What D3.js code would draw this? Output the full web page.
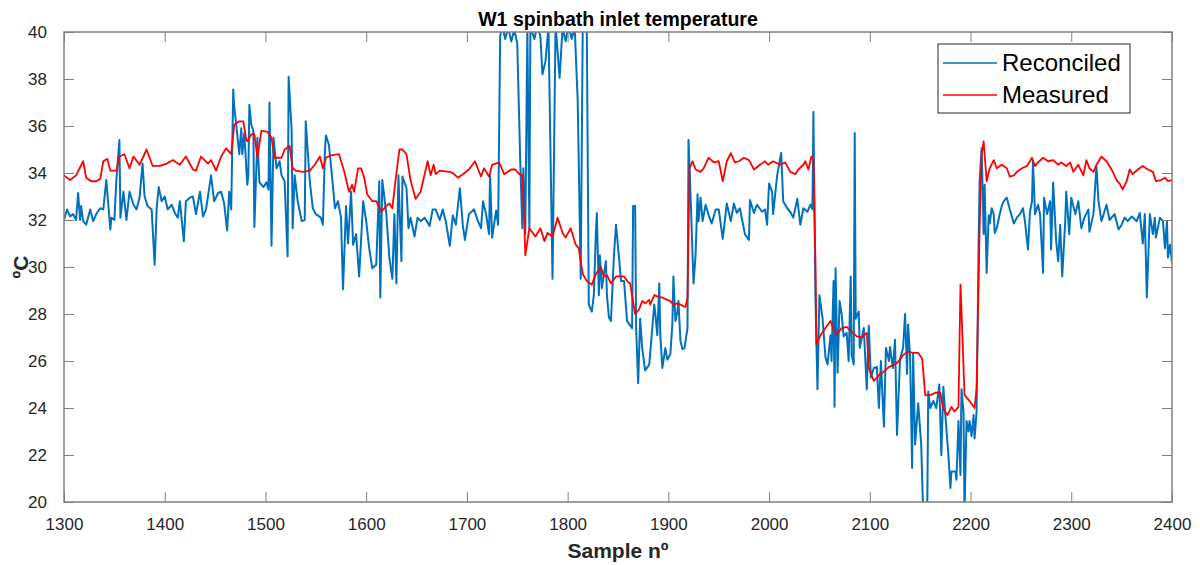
<!DOCTYPE html>
<html>
<head>
<meta charset="utf-8">
<script src="https://cdn.jsdelivr.net/npm/d3@7"></script>
<style>
  body { margin: 0; background: #fff; }
  svg { display: block; font-family: 'Liberation Sans', Arial, Helvetica, sans-serif; }
</style>
</head>
<body>
<div class="graph"></div>
<script>
(() => {
// values
var measuredSample = [1300,1306,1312,1319,1322,1327,1332,1336,1339,1343,1346,1352,1355,1360,1365,1369,1375,1382,1388,1395,
  1402,1408,1415,1421,1428,1431,1436,1443,1446,1451,1456,1461,1466,1469,1474,1478,1481,1482,1486,1489,
  1492,1496,1502,1506,1509,1516,1519,1524,1527,1530,1537,1544,1549,1554,1557,1560,1565,1573,1578,1583,
  1586,1588,1592,1595,1598,1601,1606,1610,1615,1620,1623,1626,1629,1633,1636,1640,1644,1649,1654,1661,
  1664,1667,1669,1673,1683,1686,1691,1696,1702,1708,1714,1717,1722,1725,1732,1737,1744,1748,1752,1755,
  1757,1758,1762,1768,1773,1777,1780,1785,1790,1795,1798,1803,1808,1811,1815,1819,1824,1828,1833,1836,
  1839,1843,1848,1851,1856,1859,1862,1867,1871,1874,1877,1881,1882,1886,1889,1894,1899,1902,1905,1909,
  1912,1917,1919,1921,1924,1927,1932,1935,1940,1945,1950,1954,1958,1962,1966,1970,1975,1980,1985,1991,
  1996,1999,2004,2011,2016,2021,2026,2029,2034,2036,2039,2042,2044,2046,2047,2051,2056,2061,2064,2067,
  2072,2077,2082,2087,2092,2097,2099,2104,2109,2114,2119,2125,2130,2133,2138,2143,2148,2152,2155,2160,
  2165,2170,2173,2177,2181,2184,2188,2190,2192,2194,2199,2204,2206,2209,2211,2213,2216,2219,2223,2226,
  2231,2236,2239,2243,2246,2251,2256,2261,2264,2267,2272,2277,2282,2287,2290,2295,2299,2302,2307,2312,
  2315,2318,2322,2325,2330,2335,2340,2345,2348,2351,2355,2358,2361,2366,2371,2376,2381,2384,2389,2393,
  2396,2400];
var measuredValue = [33.9,33.7,33.9,34.5,33.8,33.65,33.65,33.75,34.5,34.6,34.1,34.1,34.7,34.8,34.2,34.7,34.35,35.0,34.3,34.3,
  34.4,34.55,34.35,34.7,34.15,34.1,34.7,34.4,34.55,34.1,34.7,35.05,34.8,36.05,36.2,36.2,35.4,35.35,35.65,35.65,
  34.65,35.8,35.75,35.5,34.65,34.65,35.0,35.15,34.2,34.1,34.05,34.1,34.35,34.7,34.2,34.65,34.75,34.8,34.1,33.2,
  33.5,33.2,34.2,34.2,33.8,33.1,32.8,32.8,32.35,32.6,32.7,32.5,33.65,35.0,35.0,34.8,33.7,32.9,33.2,34.5,
  33.9,34.35,33.95,34.1,34.05,34.0,33.8,33.95,34.15,34.5,33.85,34.2,33.85,34.35,34.45,33.95,34.15,34.15,33.95,33.9,
  31.8,30.5,31.65,31.3,31.65,31.1,31.45,31.3,32.1,31.45,31.25,31.65,30.95,30.8,29.7,29.4,29.25,29.7,30.0,29.6,
  29.65,29.3,29.6,29.6,29.6,29.4,29.3,28.0,28.2,28.55,28.45,28.6,28.4,28.8,28.75,28.7,28.6,28.55,28.4,28.45,
  28.4,28.3,28.7,34.2,34.5,34.15,34.05,34.2,34.65,34.45,34.5,33.65,34.5,34.85,34.45,34.5,34.65,34.55,34.15,34.35,
  34.5,34.35,34.5,34.35,34.45,34.05,33.95,34.15,34.35,34.5,34.15,34.7,34.6,30.25,26.7,27.1,27.4,27.7,27.35,27.1,
  27.4,27.45,27.25,27.05,27.0,27.2,25.7,25.15,25.4,25.55,25.75,25.85,26.05,26.25,26.4,26.35,26.35,26.1,24.55,24.55,
  24.65,24.65,23.95,23.7,24.05,23.85,24.05,29.25,27.0,24.55,24.3,24.0,24.85,31.65,34.8,35.35,33.65,34.2,34.55,34.2,
  34.35,34.2,33.85,33.9,34.05,34.2,34.3,34.65,34.3,34.45,34.65,34.5,34.55,34.35,34.45,34.3,34.45,34.05,34.35,33.9,
  34.55,34.2,34.05,34.35,34.7,34.5,34.15,33.7,33.55,33.3,33.65,34.15,33.95,34.15,34.3,34.15,34.05,33.65,33.7,33.8,
  33.65,33.7];

var reconciledSample = [1300,1303,1306,1309,1312,1314,1316,1317,1319,1322,1326,1329,1332,1336,1339,1342,1346,1347,1350,1352,
  1355,1356,1359,1362,1365,1369,1372,1375,1378,1380,1383,1387,1390,1392,1394,1397,1400,1403,1407,1410,
  1413,1415,1419,1421,1425,1428,1431,1435,1438,1441,1446,1449,1453,1456,1459,1462,1464,1466,1468,1469,
  1471,1474,1476,1477,1479,1481,1482,1483,1484,1486,1488,1489,1492,1494,1498,1501,1503,1504,1506,1508,
  1511,1514,1516,1519,1522,1523,1526,1527,1529,1532,1536,1539,1540,1544,1547,1550,1555,1557,1559,1560,
  1563,1566,1569,1572,1575,1577,1580,1582,1585,1587,1590,1593,1597,1600,1603,1606,1610,1613,1614,1616,
  1620,1623,1626,1628,1630,1632,1635,1636,1640,1642,1644,1648,1651,1654,1658,1663,1666,1669,1673,1676,
  1679,1683,1686,1689,1693,1696,1698,1702,1707,1711,1714,1716,1719,1722,1723,1725,1729,1731,1733,1735,
  1738,1741,1744,1747,1750,1753,1755,1756,1758,1760,1762,1763,1767,1770,1773,1775,1778,1781,1785,1788,
  1792,1795,1798,1801,1804,1807,1810,1813,1815,1819,1821,1824,1826,1828,1829,1831,1832,1834,1838,1839,
  1841,1843,1846,1848,1851,1853,1856,1859,1864,1865,1867,1868,1870,1872,1874,1877,1881,1884,1886,1887,
  1889,1891,1892,1894,1897,1899,1902,1904,1905,1907,1909,1910,1912,1914,1916,1919,1920,1922,1925,1927,
  1929,1930,1932,1934,1937,1940,1943,1947,1950,1954,1958,1962,1965,1968,1971,1976,1980,1981,1985,1988,
  1993,1996,1998,2000,2003,2004,2008,2012,2014,2018,2021,2024,2028,2031,2034,2038,2041,2043,2044,2046,
  2048,2050,2053,2056,2058,2061,2062,2064,2065,2066,2068,2070,2072,2074,2077,2079,2081,2082,2084,2085,
  2086,2089,2090,2094,2097,2099,2101,2104,2107,2109,2111,2114,2116,2119,2120,2123,2125,2127,2130,2133,
  2135,2137,2138,2140,2142,2143,2145,2148,2151,2153,2157,2158,2160,2163,2166,2169,2171,2173,2175,2178,
  2180,2181,2185,2186,2188,2190,2191,2193,2194,2196,2198,2199,2201,2203,2204,2206,2208,2209,2211,2213,
  2214,2216,2218,2219,2221,2223,2224,2226,2229,2231,2233,2236,2239,2243,2246,2249,2252,2254,2257,2259,
  2261,2262,2264,2267,2269,2272,2273,2276,2279,2280,2282,2285,2287,2289,2291,2294,2295,2298,2300,2304,
  2307,2310,2313,2317,2318,2322,2325,2327,2330,2335,2338,2343,2347,2350,2353,2356,2360,2365,2368,2371,
  2373,2375,2378,2381,2383,2384,2388,2391,2393,2395,2396,2398,2400];
var reconciledValue = [32.0,32.45,32.15,32.25,32.0,33.15,32.0,32.6,31.95,31.8,32.45,31.95,32.25,32.5,32.45,33.7,31.6,32.1,32.0,33.7,
  35.4,32.1,33.2,32.0,33.2,32.65,32.45,32.95,34.4,33.0,32.6,32.45,30.1,32.5,33.4,32.8,33.0,32.45,32.65,32.3,
  32.1,32.8,31.1,32.8,32.95,33.0,32.25,33.2,32.15,32.45,33.9,32.8,33.15,33.2,32.7,31.55,33.2,32.45,37.55,36.8,
  36.05,34.8,35.9,34.8,35.7,34.2,33.5,33.9,36.9,36.05,35.8,31.7,35.5,33.6,33.4,33.6,33.3,37.0,30.9,35.5,
  34.2,34.5,33.9,33.65,30.45,38.1,35.8,31.65,33.9,32.8,31.95,32.0,36.2,33.65,32.5,32.25,32.1,31.8,34.9,35.6,
  35.2,33.9,32.5,32.8,32.1,29.05,32.6,31.0,33.2,30.95,31.4,29.6,32.8,31.95,30.8,29.95,30.1,33.65,28.7,33.7,
  32.25,30.4,29.5,32.25,29.3,33.9,30.25,33.85,33.35,31.65,32.1,31.3,32.1,31.95,32.1,31.75,32.45,32.45,32.0,32.45,
  31.95,30.9,32.2,31.8,33.35,31.75,31.15,32.25,32.45,31.95,31.65,32.8,32.25,31.4,33.9,31.25,32.4,31.8,39.8,40.3,
  39.7,40.2,39.6,40.1,39.5,34.4,31.65,34.2,31.4,40.2,31.65,40.2,39.7,40.3,39.8,38.2,38.75,40.2,29.5,40.3,
  38.05,40.2,39.6,40.3,39.7,40.2,37.05,29.5,40.3,40.3,28.4,28.1,28.8,31.4,32.3,28.8,30.5,29.1,30.25,28.8,
  27.85,27.7,30.5,31.8,30.4,29.4,29.4,27.7,27.4,32.6,32.6,27.4,25.05,27.8,26.55,25.6,25.85,27.4,28.4,28.05,
  27.1,29.3,27.1,25.7,26.55,26.05,26.3,27.6,29.6,27.7,28.1,28.55,26.85,26.5,26.55,27.4,35.4,33.1,29.3,30.5,
  33.1,31.95,32.95,31.95,32.65,32.2,31.85,32.45,32.45,31.2,32.7,31.95,32.7,32.3,32.5,31.4,31.15,32.85,32.3,32.65,
  32.35,32.45,31.8,33.55,33.2,32.25,33.9,34.85,32.8,32.5,32.35,32.1,32.9,31.8,32.5,32.35,32.65,32.45,36.6,28.8,
  24.8,28.8,27.85,26.15,25.85,27.1,26.0,29.4,24.05,29.95,25.5,28.55,28.0,27.05,27.2,26.0,29.6,26.25,25.85,35.7,
  27.8,28.1,26.55,27.4,24.8,27.5,25.3,25.7,25.75,24.0,26.0,23.2,26.55,26.0,26.6,25.7,26.9,22.85,26.1,26.55,
  28.0,25.45,27.55,26.15,21.45,26.3,22.45,24.2,22.45,19.5,19.5,24.7,24.0,24.3,24.0,25.0,22.0,24.9,23.7,22.0,
  20.6,21.3,21.3,20.95,23.45,21.15,24.8,23.85,19.5,23.45,23.0,23.45,22.8,23.7,22.7,23.85,30.95,33.65,35.05,31.4,
  33.5,29.75,32.2,31.85,32.5,32.25,31.45,31.65,32.25,32.6,32.8,32.95,32.45,31.85,32.1,32.25,32.5,31.95,30.75,32.35,
  32.8,34.5,32.25,32.65,32.25,29.75,32.95,32.25,32.8,30.75,33.6,31.1,30.25,31.8,29.6,31.95,33.2,31.4,32.95,32.25,
  32.8,31.65,32.1,32.45,31.5,32.25,34.3,32.8,31.95,32.65,32.0,32.25,31.6,31.8,32.1,31.95,32.15,31.95,32.3,31.0,
  32.25,28.7,32.25,31.4,32.1,31.25,32.1,31.95,30.8,31.95,30.4,30.95,30.2];

var xTicks = [1300,1400,1500,1600,1700,1800,1900,2000,2100,2200,2300,2400];
var yTicks = [20,22,24,26,28,30,32,34,36,38,40];
var seriesNames = ['Reconciled', 'Measured'];

var margin = {top: 32, right: 28, bottom: 63, left: 64},
    width = 1200,
    height = 565,
    innerW = width - margin.left - margin.right,
    innerH = height - margin.top - margin.bottom;

var x = d3.scaleLinear().domain([1300, 2400]).range([0, innerW]);
var y = d3.scaleLinear().domain([20, 40]).range([innerH, 0]);

var svg = d3.select('div.graph')
    .append('svg')
        .attr('width', width)
        .attr('height', height)
    .append('g')
        .attr('transform', 'translate(' + margin.left + ',' + margin.top + ')');

svg.append('clipPath')
    .attr('id', 'plotclip')
  .append('rect')
    .attr('width', innerW)
    .attr('height', innerH);

var line = d3.line()
    .x((d) => x(d[0]))
    .y((d) => y(d[1]));

var reconciled = d3.zip(reconciledSample, reconciledValue);
var measured = d3.zip(measuredSample, measuredValue);

var plot = svg.append('g').attr('clip-path', 'url(#plotclip)');

plot.append('path')
    .datum(reconciled)
    .attr('fill', 'none')
    .attr('stroke', '#0072bd')
    .attr('stroke-width', 2)
    .attr('stroke-linejoin', 'round')
    .attr('d', line);

plot.append('path')
    .datum(measured)
    .attr('fill', 'none')
    .attr('stroke', '#ff0000')
    .attr('stroke-width', 1.8)
    .attr('stroke-linejoin', 'round')
    .attr('d', line);

// axes, matlab style: ticks inside, on all four sides
var axisColor = '#7f7f7f';
var tickLen = 10;

function styleAxis(g) {
    g.select('.domain').remove();
    g.selectAll('.tick line').attr('stroke', axisColor);
    g.selectAll('.tick text')
        .attr('fill', '#262626')
        .style('font-size', '17px');
}

svg.append('g')
    .attr('transform', 'translate(0,' + innerH + ')')
    .call(d3.axisBottom(x).tickValues(xTicks).tickFormat(d3.format('d')).tickSize(-tickLen).tickPadding(16))
    .call(styleAxis);

svg.append('g')
    .call(d3.axisTop(x).tickValues(xTicks).tickSize(-tickLen).tickFormat(''))
    .call(styleAxis);

svg.append('g')
    .call(d3.axisLeft(y).tickValues(yTicks).tickSize(-tickLen).tickPadding(17))
    .call(styleAxis);

svg.append('g')
    .attr('transform', 'translate(' + innerW + ',0)')
    .call(d3.axisRight(y).tickValues(yTicks).tickSize(-tickLen).tickFormat(''))
    .call(styleAxis);

svg.append('rect')
    .attr('width', innerW)
    .attr('height', innerH)
    .attr('fill', 'none')
    .attr('stroke', axisColor)
    .attr('stroke-width', 1.5);

// labels
svg.append('text')
    .attr('x', innerW / 2)
    .attr('y', -6)
    .attr('text-anchor', 'middle')
    .style('font-size', '19.5px')
    .style('font-weight', 'bold')
    .attr('fill', '#000')
    .text('W1 spinbath inlet temperature');

svg.append('text')
    .attr('x', innerW / 2)
    .attr('y', innerH + 56)
    .attr('text-anchor', 'middle')
    .style('font-size', '21px')
    .style('font-weight', 'bold')
    .attr('fill', '#262626')
    .text('Sample nº');

svg.append('text')
    .attr('transform', 'translate(' + (-36) + ',' + (innerH / 2) + ') rotate(-90)')
    .attr('text-anchor', 'middle')
    .style('font-size', '21px')
    .style('font-weight', 'bold')
    .attr('fill', '#262626')
    .text('ºC');

// legend, top right corner inside the axes
var legend = svg.append('g')
    .attr('transform', 'translate(' + (innerW - 234) + ',12)');

legend.append('rect')
    .attr('width', 192)
    .attr('height', 69)
    .attr('fill', '#fff')
    .attr('stroke', '#262626')
    .attr('stroke-width', 1);

var legendColor = ['#0072bd', '#ff0000'];
var item = legend.selectAll('g.item')
    .data(seriesNames)
    .enter()
    .append('g')
        .attr('class', 'item')
        .attr('transform', (d, i) => 'translate(0,' + (19 + i * 32) + ')');

item.append('line')
    .attr('x1', 5)
    .attr('x2', 59)
    .attr('stroke', (d, i) => legendColor[i])
    .attr('stroke-width', 1.5);

item.append('text')
    .attr('x', 64)
    .attr('dy', '0.35em')
    .style('font-size', '24px')
    .attr('fill', '#000')
    .text((d) => d);
})();
</script>
</body>
</html>
